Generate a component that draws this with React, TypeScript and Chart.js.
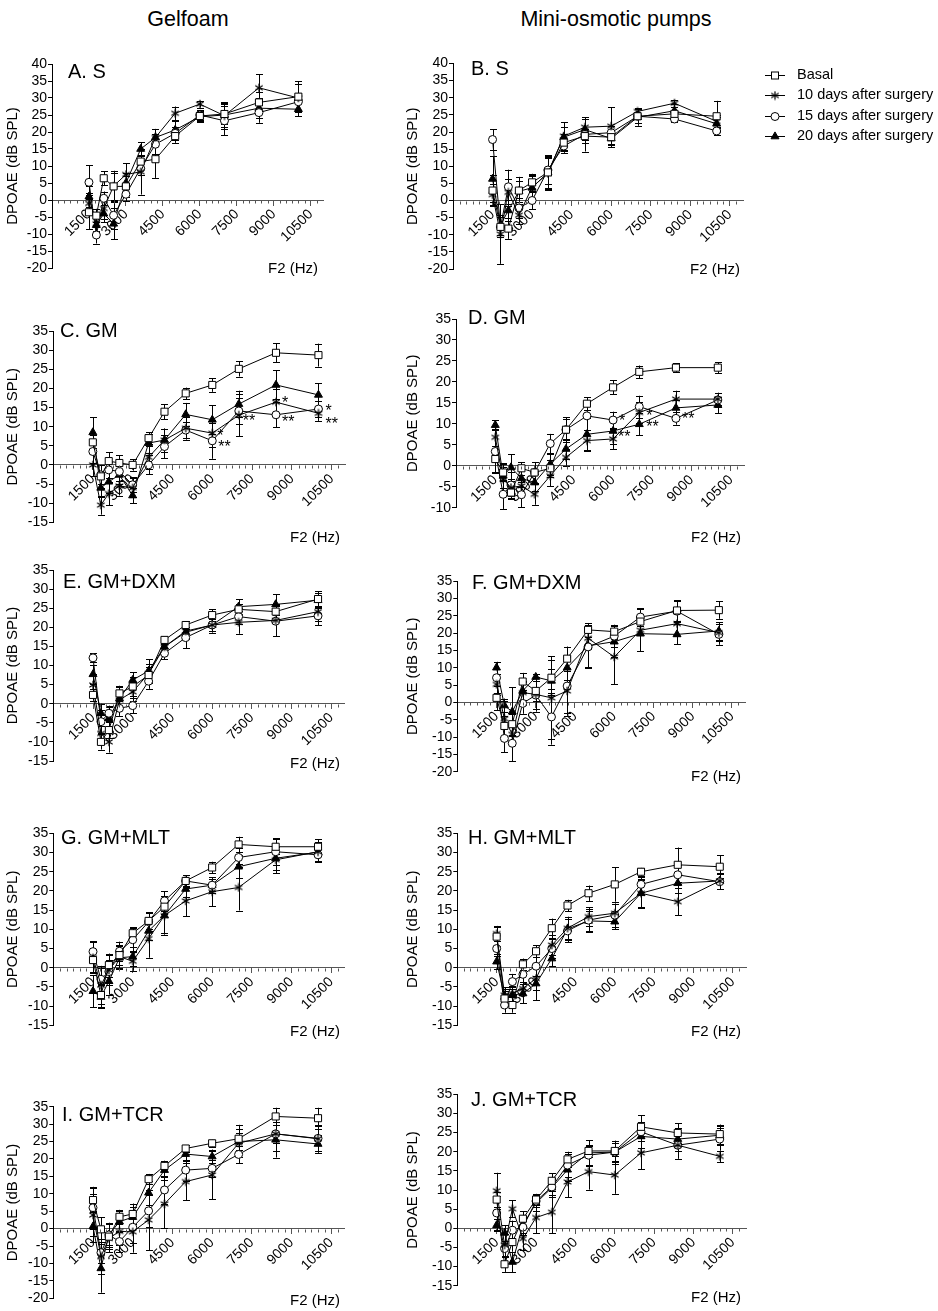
import React, { useEffect, useRef } from 'react';
import { Chart, registerables } from 'chart.js';

Chart.register(...registerables);
const FONT = "'Liberation Sans', Arial, Helvetica, sans-serif";
Chart.defaults.font.family = FONT;
Chart.defaults.color = '#000';

// ---------------- data ----------------
const freqHz = [1500, 1800, 2100, 2500, 3000, 3600, 4200, 5000, 6000, 7000, 8400, 10000];
const xTickValues = [1500, 3000, 4500, 6000, 7500, 9000, 10500];
const xMinorStep = 250;
const yStep = 5;
const seriesNames = ['Basal', '10 days after surgery', '15 days after surgery', '20 days after surgery'];
const columnTitles = ['Gelfoam', 'Mini-osmotic pumps'];

const panelA_basal = [-3.6, -4.6, 6.4, 4.0, 4.0, 11.3, 12.0, 18.8, 24.7, 25.3, 28.7, 30.4];
const panelA_basalErr = [5.0, 2.0, 2.0, 4.0, 3.0, 2.0, 5.5, 2.0, 1.5, 3.0, 3.0, 4.5];
const panelA_day10 = [-1.0, -7.0, -2.5, 4.1, 7.5, 8.3, 18.4, 25.5, 28.2, 24.8, 33.0, 30.0];
const panelA_day10Err = [3.0, 2.0, 3.0, 4.5, 3.3, 6.7, 2.5, 2.0, 1.0, 4.0, 4.0, 4.0];
const panelA_day15 = [5.2, -10.3, 0.5, -4.5, 1.7, 9.3, 16.4, 19.6, 25.0, 23.3, 25.7, 28.9];
const panelA_day15Err = [5.0, 2.5, 2.0, 4.0, 2.0, 2.0, 3.0, 2.0, 1.5, 4.3, 3.0, 2.5];
const panelA_day20 = [1.0, -7.4, -4.0, -7.0, 5.0, 15.0, 18.4, 20.6, 24.5, 25.0, 27.0, 26.7];
const panelA_day20Err = [3.0, 3.0, 2.5, 4.5, 3.0, 2.0, 2.5, 2.5, 1.5, 3.5, 3.0, 2.0];

const panelB_basal = [2.9, -7.7, -8.2, 2.9, 5.3, 8.2, 16.9, 18.8, 18.5, 24.6, 25.3, 24.6];
const panelB_basalErr = [4.5, 3.0, 3.0, 4.0, 2.5, 4.5, 2.5, 2.0, 2.0, 2.0, 2.0, 4.5];
const panelB_day10 = [1.7, -9.8, 2.4, -4.3, 3.9, 7.9, 18.8, 21.4, 21.7, 26.0, 28.4, 23.1];
const panelB_day10Err = [3.0, 8.7, 4.0, 2.5, 3.5, 4.5, 4.0, 2.5, 5.5, 1.0, 1.0, 2.0];
const panelB_day15 = [17.8, -7.7, 4.0, -2.2, 0.0, 8.9, 15.9, 19.3, 19.8, 24.6, 23.8, 20.3];
const panelB_day15Err = [3.0, 3.0, 5.0, 3.0, 2.5, 4.0, 2.0, 5.0, 2.0, 2.0, 1.0, 1.2];
const panelB_day20 = [6.3, -7.2, -2.9, 2.7, 3.7, 8.2, 18.5, 20.7, 18.1, 24.3, 26.2, 22.4];
const panelB_day20Err = [6.7, 3.0, 3.0, 3.0, 3.5, 5.0, 3.0, 3.0, 2.5, 2.5, 2.0, 2.0];

const panelC_basal = [5.9, -3.0, 1.0, 0.5, 0.0, 7.0, 13.9, 18.7, 20.9, 25.1, 29.3, 28.7];
const panelC_basalErr = [2.0, 3.0, 2.3, 2.0, 1.5, 1.5, 2.0, 1.5, 1.8, 2.0, 2.5, 3.0];
const panelC_day10 = [0.0, -10.5, -7.5, -5.5, -6.0, 2.0, 6.5, 9.6, 8.3, 13.0, 16.4, 13.5];
const panelC_day10Err = [3.0, 2.5, 3.0, 2.5, 2.5, 3.0, 3.0, 3.0, 3.5, 5.5, 3.5, 2.0];
const panelC_day15 = [3.5, -2.6, -1.3, -1.7, -5.2, 0.0, 4.8, 9.1, 6.3, 14.1, 13.1, 14.6];
const panelC_day15Err = [3.0, 2.5, 2.0, 2.5, 2.0, 2.5, 3.0, 2.0, 4.7, 3.5, 3.3, 2.0];
const panelC_day20 = [8.5, -6.0, -4.4, -2.6, -8.0, 5.7, 6.5, 13.2, 11.8, 15.9, 20.9, 18.3];
const panelC_day20Err = [4.0, 2.5, 3.0, 2.5, 2.0, 2.5, 3.0, 3.0, 3.8, 3.5, 3.8, 3.0];
const panelC_marks = [
  { s: 1, i: 8, text: '*' }, { s: 2, i: 8, text: '**' }, { s: 1, i: 9, text: '**' },
  { s: 1, i: 10, text: '*' }, { s: 2, i: 10, text: '**' }, { s: 2, i: 11, text: '*' }, { s: 1, i: 11, text: '**' },
];

const panelD_basal = [1.6, -1.6, -6.4, -0.6, -1.6, -0.6, 8.6, 14.8, 18.7, 22.4, 23.4, 23.4];
const panelD_basalErr = [3.0, 2.0, 1.5, 1.5, 2.5, 2.0, 2.5, 1.5, 1.7, 1.5, 1.0, 1.3];
const panelD_day10 = [6.8, -3.2, -5.2, -4.8, -6.8, -2.4, 2.0, 6.0, 6.4, 12.7, 15.9, 15.9];
const panelD_day10Err = [2.0, 3.0, 2.0, 2.5, 2.5, 2.5, 2.0, 2.5, 2.4, 2.5, 2.0, 1.5];
const panelD_day15 = [3.4, -6.8, -4.6, -6.9, -1.6, 5.3, 8.6, 11.9, 10.9, 14.1, 11.3, 15.7];
const panelD_day15Err = [5.2, 3.5, 3.0, 3.0, 2.5, 2.3, 3.0, 3.3, 2.0, 2.6, 1.5, 1.7];
const panelD_day20 = [9.7, -2.4, -0.4, -3.0, -4.0, 0.4, 4.0, 7.5, 8.3, 9.9, 13.8, 14.5];
const panelD_day20Err = [1.1, 3.0, 3.2, 2.0, 2.0, 2.5, 2.5, 3.8, 3.0, 2.6, 2.0, 2.0];
const panelD_marks = [
  { s: 2, i: 8, text: '*' }, { s: 3, i: 8, text: '**' }, { s: 1, i: 9, text: '*' },
  { s: 3, i: 9, text: '**' }, { s: 2, i: 10, text: '**' },
];

const panelE_basal = [2.3, -10.0, -6.9, 2.7, 4.5, 7.5, 16.7, 20.6, 23.2, 24.7, 24.1, 27.4];
const panelE_basalErr = [1.5, 2.0, 2.0, 2.0, 2.5, 2.0, 1.0, 1.0, 1.5, 1.5, 2.0, 2.0];
const panelE_day10 = [4.9, -7.8, -10.0, 1.0, 3.1, 7.9, 14.9, 19.0, 20.6, 21.3, 21.8, 24.1];
const panelE_day10Err = [3.0, 2.0, 2.8, 2.0, 2.5, 2.5, 1.5, 2.0, 1.5, 3.0, 4.0, 2.5];
const panelE_day15 = [12.0, -4.7, -2.5, -1.2, -0.5, 5.9, 13.2, 17.3, 20.6, 22.8, 21.6, 23.0];
const panelE_day15Err = [1.2, 3.0, 2.0, 2.0, 2.0, 2.0, 1.5, 2.8, 1.5, 2.0, 4.0, 2.5];
const panelE_day20 = [7.7, -2.5, -3.8, 1.4, 6.2, 8.6, 14.9, 18.7, 20.6, 25.4, 26.0, 27.1];
const panelE_day20Err = [2.5, 2.5, 3.0, 3.0, 2.0, 3.0, 1.5, 1.5, 2.0, 2.0, 2.7, 2.0];

const panelF_basal = [1.3, -6.8, -6.3, 6.0, 3.3, 7.1, 12.6, 20.9, 20.4, 23.3, 26.5, 26.6];
const panelF_basalErr = [3.5, 3.0, 3.0, 2.5, 3.0, 5.0, 3.5, 2.0, 2.0, 3.5, 3.0, 2.5];
const panelF_day10 = [5.2, -4.7, -9.2, 2.8, 2.3, 1.3, 3.3, 18.5, 13.1, 20.8, 22.7, 20.1];
const panelF_day10Err = [3.0, 5.0, 3.0, 3.5, 5.0, 12.0, 6.5, 3.0, 7.8, 6.0, 3.5, 2.5];
const panelF_day15 = [7.1, -10.4, -11.8, -0.3, 2.1, -4.2, 4.7, 16.0, 19.1, 24.6, 26.3, 19.6];
const panelF_day15Err = [4.5, 4.0, 5.2, 3.0, 4.0, 8.0, 8.5, 6.0, 3.0, 2.5, 3.0, 3.0];
const panelF_day20 = [10.0, -0.9, -2.7, 3.3, 7.3, 6.2, 10.0, 16.3, 17.5, 19.8, 19.6, 20.6];
const panelF_day20Err = [1.7, 2.0, 7.0, 2.5, 1.0, 3.5, 3.5, 6.0, 4.5, 5.0, 2.9, 2.5];

const panelG_basal = [2.0, -7.1, 0.7, 3.3, 9.0, 12.2, 15.9, 22.6, 26.1, 32.1, 31.5, 31.5];
const panelG_basalErr = [3.0, 3.0, 3.0, 2.5, 1.5, 2.0, 2.0, 1.5, 1.5, 2.0, 2.0, 2.0];
const panelG_day10 = [2.6, -4.5, -0.6, 2.9, 1.7, 7.6, 13.6, 17.4, 19.8, 20.9, 28.1, 30.2];
const panelG_day10Err = [4.0, 5.0, 4.0, 3.0, 2.5, 5.0, 4.5, 4.0, 3.8, 6.0, 3.5, 2.5];
const panelG_day15 = [4.2, -3.0, -1.0, 4.3, 7.3, 12.0, 17.4, 22.6, 21.5, 28.7, 30.2, 29.4];
const panelG_day15Err = [2.7, 3.0, 3.0, 2.5, 3.0, 2.5, 2.5, 1.5, 1.5, 2.5, 3.5, 2.0];
const panelG_day20 = [-6.1, -7.6, -3.5, 2.6, 2.9, 9.6, 13.6, 20.5, 21.5, 26.3, 28.5, 30.1];
const panelG_day20Err = [4.2, 3.0, 3.5, 3.0, 2.5, 2.5, 5.0, 2.0, 2.0, 3.0, 3.0, 2.5];

const panelH_basal = [8.1, -8.0, -9.7, 0.9, 4.3, 10.3, 16.2, 19.4, 21.7, 25.0, 26.8, 26.3];
const panelH_basalErr = [2.5, 2.0, 2.0, 1.5, 1.5, 2.5, 1.5, 2.0, 4.5, 1.0, 4.5, 3.0];
const panelH_day10 = [8.9, -7.1, -6.7, -5.4, -2.8, 5.9, 10.3, 13.3, 14.2, 19.4, 17.2, 22.6];
const panelH_day10Err = [2.0, 2.0, 2.0, 3.8, 3.0, 2.5, 3.0, 2.5, 2.5, 3.5, 3.5, 2.0];
const panelH_day15 = [5.0, -9.7, -3.6, -1.7, 0.4, 5.0, 9.6, 12.4, 13.7, 21.7, 24.2, 22.4];
const panelH_day15Err = [2.0, 2.0, 2.0, 2.0, 2.5, 2.5, 3.0, 3.0, 3.0, 2.0, 2.5, 2.0];
const panelH_day20 = [1.6, -7.6, -7.1, -6.7, -4.1, 2.4, 10.1, 12.2, 12.0, 19.4, 22.0, 22.6];
const panelH_day20Err = [2.0, 2.0, 2.0, 2.5, 4.4, 2.0, 2.5, 2.5, 2.0, 3.8, 2.5, 2.0];

const panelI_basal = [8.2, -0.2, -2.3, 3.4, 4.2, 14.2, 18.0, 23.0, 24.5, 25.8, 32.2, 31.7];
const panelI_basalErr = [3.5, 3.5, 3.5, 2.0, 3.0, 1.5, 1.5, 1.0, 1.0, 4.0, 2.5, 3.0];
const panelI_day10 = [3.9, -8.0, -2.8, -0.8, -0.9, 2.5, 7.1, 13.5, 15.4, 24.5, 27.2, 25.8];
const panelI_day10Err = [6.0, 5.0, 4.0, 4.0, 6.0, 8.7, 7.0, 5.3, 7.0, 4.0, 5.0, 4.0];
const panelI_day15 = [6.0, -6.9, -1.8, -3.7, 0.4, 5.1, 11.1, 16.8, 17.3, 21.3, 27.2, 25.9];
const panelI_day15Err = [6.0, 3.0, 3.0, 3.0, 4.5, 4.5, 4.0, 3.0, 2.5, 2.5, 2.5, 3.5];
const panelI_day20 = [0.6, -11.4, -1.8, 2.0, 3.3, 10.3, 16.8, 21.4, 20.7, 25.0, 25.5, 24.3];
const panelI_day20Err = [4.5, 7.0, 3.5, 3.0, 3.0, 3.5, 2.0, 2.0, 2.0, 2.5, 5.1, 2.5];

const panelJ_basal = [7.5, -9.4, -3.6, 2.5, 7.5, 12.4, 18.0, 20.2, 20.2, 26.5, 24.9, 24.6];
const panelJ_basalErr = [2.0, 2.0, 2.5, 2.0, 1.5, 2.0, 2.0, 1.5, 2.5, 3.0, 2.5, 2.5];
const panelJ_day10 = [9.8, -4.4, 5.1, -2.7, 2.8, 4.2, 12.1, 14.8, 13.9, 19.7, 21.7, 18.8];
const panelJ_day10Err = [4.7, 3.0, 2.2, 3.0, 4.1, 5.5, 4.0, 4.7, 4.9, 4.3, 3.5, 1.5];
const panelJ_day15 = [4.0, -5.3, -0.5, 0.3, 7.1, 10.8, 16.5, 19.1, 19.9, 25.2, 21.7, 23.3];
const panelJ_day15Err = [4.5, 2.0, 2.5, 2.0, 1.5, 2.0, 3.0, 2.5, 2.5, 2.5, 3.5, 3.0];
const panelJ_day20 = [0.8, -1.2, -8.8, 0.8, 6.6, 10.6, 15.3, 19.7, 19.9, 24.0, 23.3, 24.3];
const panelJ_day20Err = [1.5, 2.0, 2.7, 2.0, 2.0, 2.5, 3.0, 3.3, 3.0, 3.0, 3.0, 2.5];

// ---------------- layout (positions/styles) ----------------
const Y_AXIS_W = 40;
const CAP = 3.5;
const markOffsets: Record<string, { dx: number; dy: number }[]> = {
  C: [{ dx: 5, dy: -1 }, { dx: 6, dy: 2 }, { dx: 4, dy: 2 }, { dx: 6, dy: -3 }, { dx: 6, dy: 3 }, { dx: 7, dy: -2 }, { dx: 7, dy: 7 }],
  D: [{ dx: 6, dy: -3 }, { dx: 5, dy: 2 }, { dx: 7, dy: -1 }, { dx: 7, dy: -1 }, { dx: 6, dy: -3 }],
};

type Rect = { left: number; top: number; width: number; height: number };
type Panel = {
  key: string; title: string; yMin: number; yMax: number;
  series: number[][]; errors: number[][];
  canvas: Rect; area: { left: number; top: number; right: number; bottom: number };
  titleAt: [number, number]; f2At: [number, number]; yLabelX: number;
  marks?: { s: number; i: number; text: string }[]; legend?: boolean;
};

const LC = (top: number, height: number): Rect => ({ left: 0, top, width: 400, height });
const RC = (top: number, height: number): Rect => ({ left: 400, top, width: 538, height });

const panels: Panel[] = [
  { key: 'A', title: 'A. S', yMin: -20, yMax: 40,
    series: [panelA_basal, panelA_day10, panelA_day15, panelA_day20],
    errors: [panelA_basalErr, panelA_day10Err, panelA_day15Err, panelA_day20Err],
    canvas: LC(40, 250), area: { left: 52, top: 64, right: 323, bottom: 268 },
    titleAt: [68, 78], f2At: [318, 273], yLabelX: 13 },
  { key: 'B', title: 'B. S', yMin: -20, yMax: 40,
    series: [panelB_basal, panelB_day10, panelB_day15, panelB_day20],
    errors: [panelB_basalErr, panelB_day10Err, panelB_day15Err, panelB_day20Err],
    canvas: RC(40, 250), area: { left: 453, top: 63.5, right: 743, bottom: 269 },
    titleAt: [471, 75], f2At: [740, 274], yLabelX: 413, legend: true },
  { key: 'C', title: 'C. GM', yMin: -15, yMax: 35,
    series: [panelC_basal, panelC_day10, panelC_day15, panelC_day20],
    errors: [panelC_basalErr, panelC_day10Err, panelC_day15Err, panelC_day20Err],
    canvas: LC(295, 255), area: { left: 53, top: 331, right: 345, bottom: 522.3 },
    titleAt: [60, 337], f2At: [340, 542], yLabelX: 13, marks: panelC_marks },
  { key: 'D', title: 'D. GM', yMin: -10, yMax: 35,
    series: [panelD_basal, panelD_day10, panelD_day15, panelD_day20],
    errors: [panelD_basalErr, panelD_day10Err, panelD_day15Err, panelD_day20Err],
    canvas: RC(295, 255), area: { left: 456, top: 319, right: 744, bottom: 507.7 },
    titleAt: [468, 324], f2At: [741, 542], yLabelX: 413, marks: panelD_marks },
  { key: 'E', title: 'E. GM+DXM', yMin: -15, yMax: 35,
    series: [panelE_basal, panelE_day10, panelE_day15, panelE_day20],
    errors: [panelE_basalErr, panelE_day10Err, panelE_day15Err, panelE_day20Err],
    canvas: LC(550, 230), area: { left: 53.3, top: 570, right: 344.5, bottom: 761 },
    titleAt: [63, 588], f2At: [340, 768], yLabelX: 13 },
  { key: 'F', title: 'F. GM+DXM', yMin: -20, yMax: 35,
    series: [panelF_basal, panelF_day10, panelF_day15, panelF_day20],
    errors: [panelF_basalErr, panelF_day10Err, panelF_day15Err, panelF_day20Err],
    canvas: RC(550, 240), area: { left: 457.3, top: 581, right: 745, bottom: 771.7 },
    titleAt: [472, 589], f2At: [741, 781], yLabelX: 413 },
  { key: 'G', title: 'G. GM+MLT', yMin: -15, yMax: 35,
    series: [panelG_basal, panelG_day10, panelG_day15, panelG_day20],
    errors: [panelG_basalErr, panelG_day10Err, panelG_day15Err, panelG_day20Err],
    canvas: LC(795, 250), area: { left: 53.3, top: 833.3, right: 344.5, bottom: 1025.4 },
    titleAt: [61, 844], f2At: [340, 1036], yLabelX: 13 },
  { key: 'H', title: 'H. GM+MLT', yMin: -15, yMax: 35,
    series: [panelH_basal, panelH_day10, panelH_day15, panelH_day20],
    errors: [panelH_basalErr, panelH_day10Err, panelH_day15Err, panelH_day20Err],
    canvas: RC(795, 250), area: { left: 457.3, top: 833.3, right: 746, bottom: 1025.4 },
    titleAt: [468, 844], f2At: [741, 1036], yLabelX: 413 },
  { key: 'I', title: 'I. GM+TCR', yMin: -20, yMax: 35,
    series: [panelI_basal, panelI_day10, panelI_day15, panelI_day20],
    errors: [panelI_basalErr, panelI_day10Err, panelI_day15Err, panelI_day20Err],
    canvas: LC(1065, 246), area: { left: 53.3, top: 1106.7, right: 344.5, bottom: 1298.3 },
    titleAt: [62, 1121], f2At: [340, 1305], yLabelX: 13 },
  { key: 'J', title: 'J. GM+TCR', yMin: -15, yMax: 35,
    series: [panelJ_basal, panelJ_day10, panelJ_day15, panelJ_day20],
    errors: [panelJ_basalErr, panelJ_day10Err, panelJ_day15Err, panelJ_day20Err],
    canvas: RC(1065, 246), area: { left: 457.3, top: 1094.3, right: 746, bottom: 1285.7 },
    titleAt: [471, 1106], f2At: [741, 1302], yLabelX: 413 },
];

let asteriskCanvas: HTMLCanvasElement | null = null;
function getAsterisk(): HTMLCanvasElement {
  if (asteriskCanvas) return asteriskCanvas;
  const c = document.createElement('canvas');
  c.width = 10; c.height = 10;
  const g = c.getContext('2d')!;
  g.strokeStyle = '#000'; g.lineWidth = 1.2;
  const r = 4.3;
  for (const a of [90, 30, -30]) {
    const t = (a * Math.PI) / 180;
    g.beginPath();
    g.moveTo(5 - r * Math.cos(t), 5 - r * Math.sin(t));
    g.lineTo(5 + r * Math.cos(t), 5 + r * Math.sin(t));
    g.stroke();
  }
  asteriskCanvas = c;
  return c;
}

const fills = ['#ffffff', '#000000', '#ffffff', '#000000'];
const radii = [5, 5, 4, 4.6];

function drawLegendMarker(ctx: CanvasRenderingContext2D, si: number, x: number, y: number) {
  ctx.save();
  ctx.strokeStyle = '#000'; ctx.lineWidth = 1;
  if (si === 0) {
    const s = 3.5;
    ctx.fillStyle = '#fff'; ctx.fillRect(x - s, y - s, 2 * s, 2 * s); ctx.strokeRect(x - s, y - s, 2 * s, 2 * s);
  } else if (si === 1) {
    const a = getAsterisk();
    ctx.drawImage(a, x - a.width / 2, y - a.height / 2);
  } else if (si === 2) {
    ctx.fillStyle = '#fff'; ctx.beginPath(); ctx.arc(x, y, 4, 0, Math.PI * 2); ctx.fill(); ctx.stroke();
  } else {
    const r = 4.6;
    ctx.fillStyle = '#000'; ctx.beginPath();
    for (let k = 0; k < 3; k++) {
      const t = -Math.PI / 2 + (k * 2 * Math.PI) / 3;
      const px = x + r * Math.cos(t), py = y + r * Math.sin(t);
      if (k === 0) ctx.moveTo(px, py); else ctx.lineTo(px, py);
    }
    ctx.closePath(); ctx.fill(); ctx.stroke();
  }
  ctx.restore();
}

function makeConfig(p: Panel): any {
  const star = getAsterisk();
  const styles: any[] = ['rect', star, 'circle', 'triangle'];
  const ox = p.canvas.left, oy = p.canvas.top;
  const pad = {
    left: p.area.left - ox - Y_AXIS_W,
    top: p.area.top - oy,
    right: ox + p.canvas.width - p.area.right,
    bottom: oy + p.canvas.height - p.area.bottom,
  };
  const decor = {
    id: 'decor' + p.key,
    beforeDatasetsDraw(chart: any) {
      const ctx = chart.ctx; const ys = chart.scales.y;
      ctx.save(); ctx.strokeStyle = '#000'; ctx.lineWidth = 1;
      p.errors.forEach((errs, si) => {
        const meta = chart.getDatasetMeta(si);
        errs.forEach((e, i) => {
          const pt = meta.data[i]; if (!pt) return;
          const v = p.series[si][i];
          const yT = ys.getPixelForValue(v + e), yB = ys.getPixelForValue(v - e);
          const x = Math.round(pt.x) + 0.5;
          ctx.beginPath();
          ctx.moveTo(x, yT); ctx.lineTo(x, yB);
          ctx.moveTo(x - CAP, Math.round(yT) + 0.5); ctx.lineTo(x + CAP, Math.round(yT) + 0.5);
          ctx.moveTo(x - CAP, Math.round(yB) + 0.5); ctx.lineTo(x + CAP, Math.round(yB) + 0.5);
          ctx.stroke();
        });
      });
      ctx.restore();
    },
    afterDraw(chart: any) {
      const ctx = chart.ctx; const xs = chart.scales.x; const ys = chart.scales.y;
      ctx.save();
      // minor x ticks
      const y0 = Math.round(ys.getPixelForValue(0)) + 0.5;
      ctx.strokeStyle = '#555'; ctx.lineWidth = 1;
      ctx.beginPath();
      for (let v = xMinorStep; v < 11000; v += xMinorStep) {
        if (v % 1500 === 0) continue;
        const px = Math.round(xs.getPixelForValue(v)) + 0.5;
        ctx.moveTo(px, y0); ctx.lineTo(px, y0 + 3);
      }
      ctx.stroke();
      ctx.fillStyle = '#000';
      // panel title
      ctx.font = `20px ${FONT}`; ctx.textAlign = 'left'; ctx.textBaseline = 'alphabetic';
      ctx.fillText(p.title, p.titleAt[0] - ox, p.titleAt[1] - oy);
      // x title
      ctx.font = `15px ${FONT}`; ctx.textAlign = 'right';
      ctx.fillText('F2 (Hz)', p.f2At[0] - ox, p.f2At[1] - oy);
      // y title
      ctx.save();
      ctx.translate(p.yLabelX - ox, (chart.chartArea.top + chart.chartArea.bottom) / 2);
      ctx.rotate(-Math.PI / 2);
      ctx.textAlign = 'center'; ctx.textBaseline = 'middle'; ctx.font = `15px ${FONT}`;
      ctx.fillText('DPOAE (dB SPL)', 0, 0);
      ctx.restore();
      // significance marks
      if (p.marks) {
        const offs = markOffsets[p.key] || [];
        ctx.font = `16px ${FONT}`; ctx.textAlign = 'left'; ctx.textBaseline = 'alphabetic';
        p.marks.forEach((m, k) => {
          const pt = chart.getDatasetMeta(m.s).data[m.i];
          const o = offs[k] || { dx: 6, dy: 0 };
          ctx.fillText(m.text, pt.x + o.dx, pt.y + o.dy + 9);
        });
      }
      // legend
      if (p.legend) {
        ctx.font = `14.5px ${FONT}`; ctx.textAlign = 'left'; ctx.textBaseline = 'middle';
        seriesNames.forEach((name, si) => {
          const ly = 74.5 + si * 20.6 - oy;
          ctx.strokeStyle = '#000'; ctx.lineWidth = 1;
          ctx.beginPath(); ctx.moveTo(765 - ox, Math.round(ly) + 0.5); ctx.lineTo(785 - ox, Math.round(ly) + 0.5); ctx.stroke();
          drawLegendMarker(ctx, si, 775 - ox, Math.round(ly) + 0.5);
          ctx.fillStyle = '#000';
          ctx.fillText(name, 797 - ox, ly);
        });
      }
      ctx.restore();
    },
  };
  return {
    type: 'line',
    data: {
      datasets: p.series.map((vals, si) => ({
        label: seriesNames[si],
        data: freqHz.map((f, i) => ({ x: f, y: vals[i] })),
        borderColor: '#000', borderWidth: 1, backgroundColor: fills[si],
        pointStyle: styles[si], pointRadius: radii[si], pointBorderColor: '#000',
        pointBackgroundColor: fills[si], pointBorderWidth: 1, tension: 0, fill: false,
      })),
    },
    options: {
      responsive: false, maintainAspectRatio: false, animation: false, devicePixelRatio: 1,
      events: [],
      layout: { padding: pad },
      plugins: { legend: { display: false }, tooltip: { enabled: false }, title: { display: false } },
      scales: {
        x: {
          type: 'linear', min: 0, max: 11000, position: { y: 0 },
          afterBuildTicks: (s: any) => { s.ticks = xTickValues.map((v) => ({ value: v })); },
          afterFit: (s: any) => { s.height = 0; },
          ticks: { autoSkip: false, minRotation: 45, maxRotation: 45, padding: 1, color: '#000',
            font: { family: FONT, size: 14 }, callback: (v: any) => String(v) },
          grid: { drawOnChartArea: false, drawTicks: true, tickLength: 5, color: '#555', lineWidth: 1 },
          border: { display: true, color: '#555', width: 1 },
          title: { display: false },
        },
        y: {
          type: 'linear', min: p.yMin, max: p.yMax, position: 'left',
          afterBuildTicks: (s: any) => {
            const t: any[] = [];
            for (let v = p.yMin; v <= p.yMax; v += yStep) t.push({ value: v });
            s.ticks = t;
          },
          afterFit: (s: any) => { s.width = Y_AXIS_W; },
          ticks: { autoSkip: false, stepSize: yStep, padding: 1, color: '#000', font: { family: FONT, size: 14 },
            callback: (v: any) => String(v) },
          grid: { drawOnChartArea: false, drawTicks: true, tickLength: 4, color: '#000', lineWidth: 1 },
          border: { display: true, color: '#000', width: 1 },
          title: { display: false },
        },
      },
    },
    plugins: [decor],
  };
}

function PanelChart({ p }: { p: Panel }) {
  const ref = useRef<HTMLCanvasElement>(null);
  useEffect(() => {
    if (!ref.current) return;
    const chart = new Chart(ref.current, makeConfig(p));
    return () => chart.destroy();
  }, [p]);
  return (
    <canvas
      ref={ref}
      width={p.canvas.width}
      height={p.canvas.height}
      style={{ position: 'absolute', left: p.canvas.left, top: p.canvas.top, width: p.canvas.width, height: p.canvas.height }}
    />
  );
}

export default function App() {
  const headStyle: React.CSSProperties = {
    position: 'absolute', top: 5, fontFamily: FONT, fontSize: 21.5, lineHeight: '28px',
    color: '#000', transform: 'translateX(-50%)', whiteSpace: 'nowrap',
  };
  return (
    <div style={{ position: 'absolute', left: 0, top: 0, width: 938, height: 1311, background: '#fff', overflow: 'hidden' }}>
      <div style={{ ...headStyle, left: 188 }}>{columnTitles[0]}</div>
      <div style={{ ...headStyle, left: 616 }}>{columnTitles[1]}</div>
      {panels.map((p) => (
        <PanelChart key={p.key} p={p} />
      ))}
    </div>
  );
}
